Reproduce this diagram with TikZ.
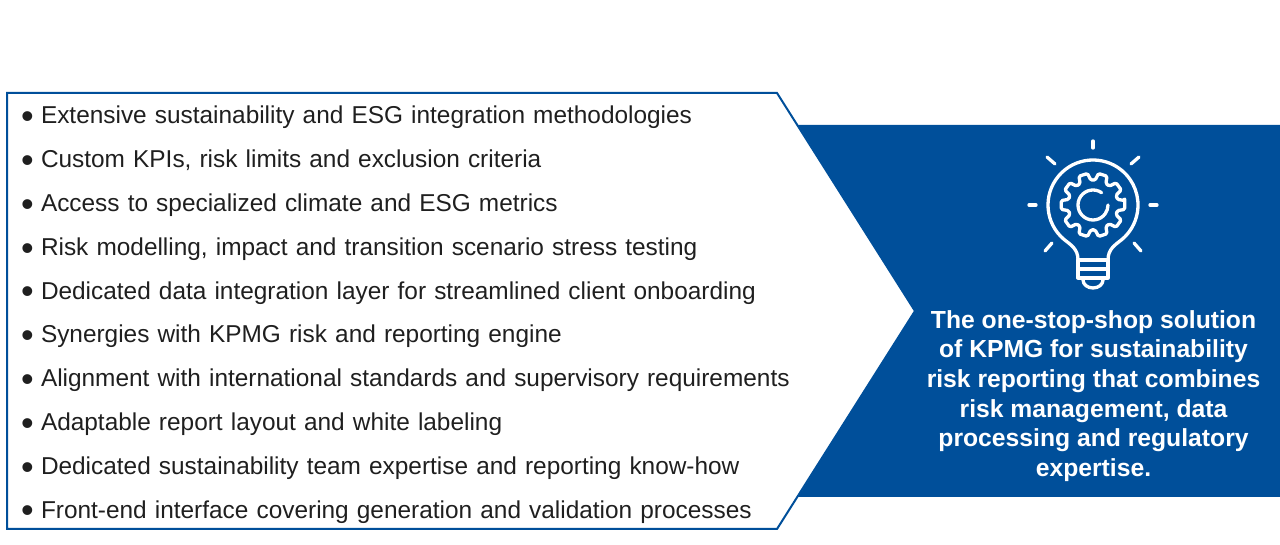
\documentclass[tikz,border=0pt]{standalone}
\usepackage{fontspec}
\setmainfont{Liberation Sans}
\usetikzlibrary{positioning}
\definecolor{kblue}{HTML}{004F9A}
\newcommand{\bul}{\makebox[20pt][l]{\raisebox{-4.8pt}{\fontsize{36}{36}\selectfont\textbullet}}}

\begin{document}
\begin{tikzpicture} [x=1pt,y=1pt,node distance=43.8pt,line width=2pt,
    item/.style={text width=770pt,inner sep=0pt,align=left,text height=17pt,text depth=5pt,font=\fontsize{24.4}{28}\selectfont,text=black!88},
    summary/.style={text=white,align=center,inner sep=0pt,font=\fontsize{24.7}{29.6}\selectfont\bfseries},
    icon/.style={draw=white,line width=3.3pt,line cap=round,line join=round}]

  \useasboundingbox (0,0) rectangle (1280,545);

  % panels
  \fill[kblue] (798,420) -- (1280,420) -- (1280,48) -- (798,48) -- (915,234) -- cycle;
  \draw[kblue,line join=miter] (7,452) -- (777,452) -- (915,234) -- (777,16) -- (7,16) -- cycle;

  % list
  \node[item] (1) at (406,427) {\bul Extensive sustainability and ESG integration methodologies};
  \node[item] (2) [below of=1] {\bul Custom KPIs, risk limits and exclusion criteria};
  \node[item] (3) [below of=2] {\bul Access to specialized climate and ESG metrics};
  \node[item] (4) [below of=3] {\bul Risk modelling, impact and transition scenario stress testing};
  \node[item] (5) [below of=4] {\bul Dedicated data integration layer for streamlined client onboarding};
  \node[item] (6) [below of=5] {\bul Synergies with KPMG risk and reporting engine};
  \node[item] (7) [below of=6] {\bul Alignment with international standards and supervisory requirements};
  \node[item] (8) [below of=7] {\bul Adaptable report layout and white labeling};
  \node[item] (9) [below of=8] {\bul Dedicated sustainability team expertise and reporting know-how};
  \node[item] (10) [below of=9] {\bul Front-end interface covering generation and validation processes};

  % summary text
  \node[summary] (text) at (1093.5,149) {The one-stop-shop solution\\of KPMG for sustainability\\risk reporting that combines\\risk management, data\\processing and regulatory\\expertise.};

  % bulb
  \begin{scope}[shift={(1093,340)},icon]
    \draw (0,64) -- (0,57);
    \draw (-46,48) -- (-38,41);
    \draw (46,48) -- (38,41);
    \draw (-64,0) -- (-57,0);
    \draw (64,0) -- (57,0);
    \draw (-48,-46) -- (-41,-38);
    \draw (48,-46) -- (41,-38);
    \draw (-15,-55) .. controls (-15,-44) and (-22,-40) .. (230:45) arc (230:-50:45) .. controls (22,-40) and (15,-44) .. (15,-55);
    \draw (-15,-55) rectangle (15,-73);
    \draw (-15,-64) -- (15,-64);
    \draw (-10,-75) arc (180:360:10 and 8);
    \draw[rounded corners=1.4pt] (8:32)
      \foreach \a in {0,36,...,324} { -- (\a+8:32) -- (\a+13:25) -- (\a+23:25) -- (\a+28:32) } -- cycle;
    \draw (55:15) arc (55:360:15);
  \end{scope}

\end{tikzpicture}
\end{document}
